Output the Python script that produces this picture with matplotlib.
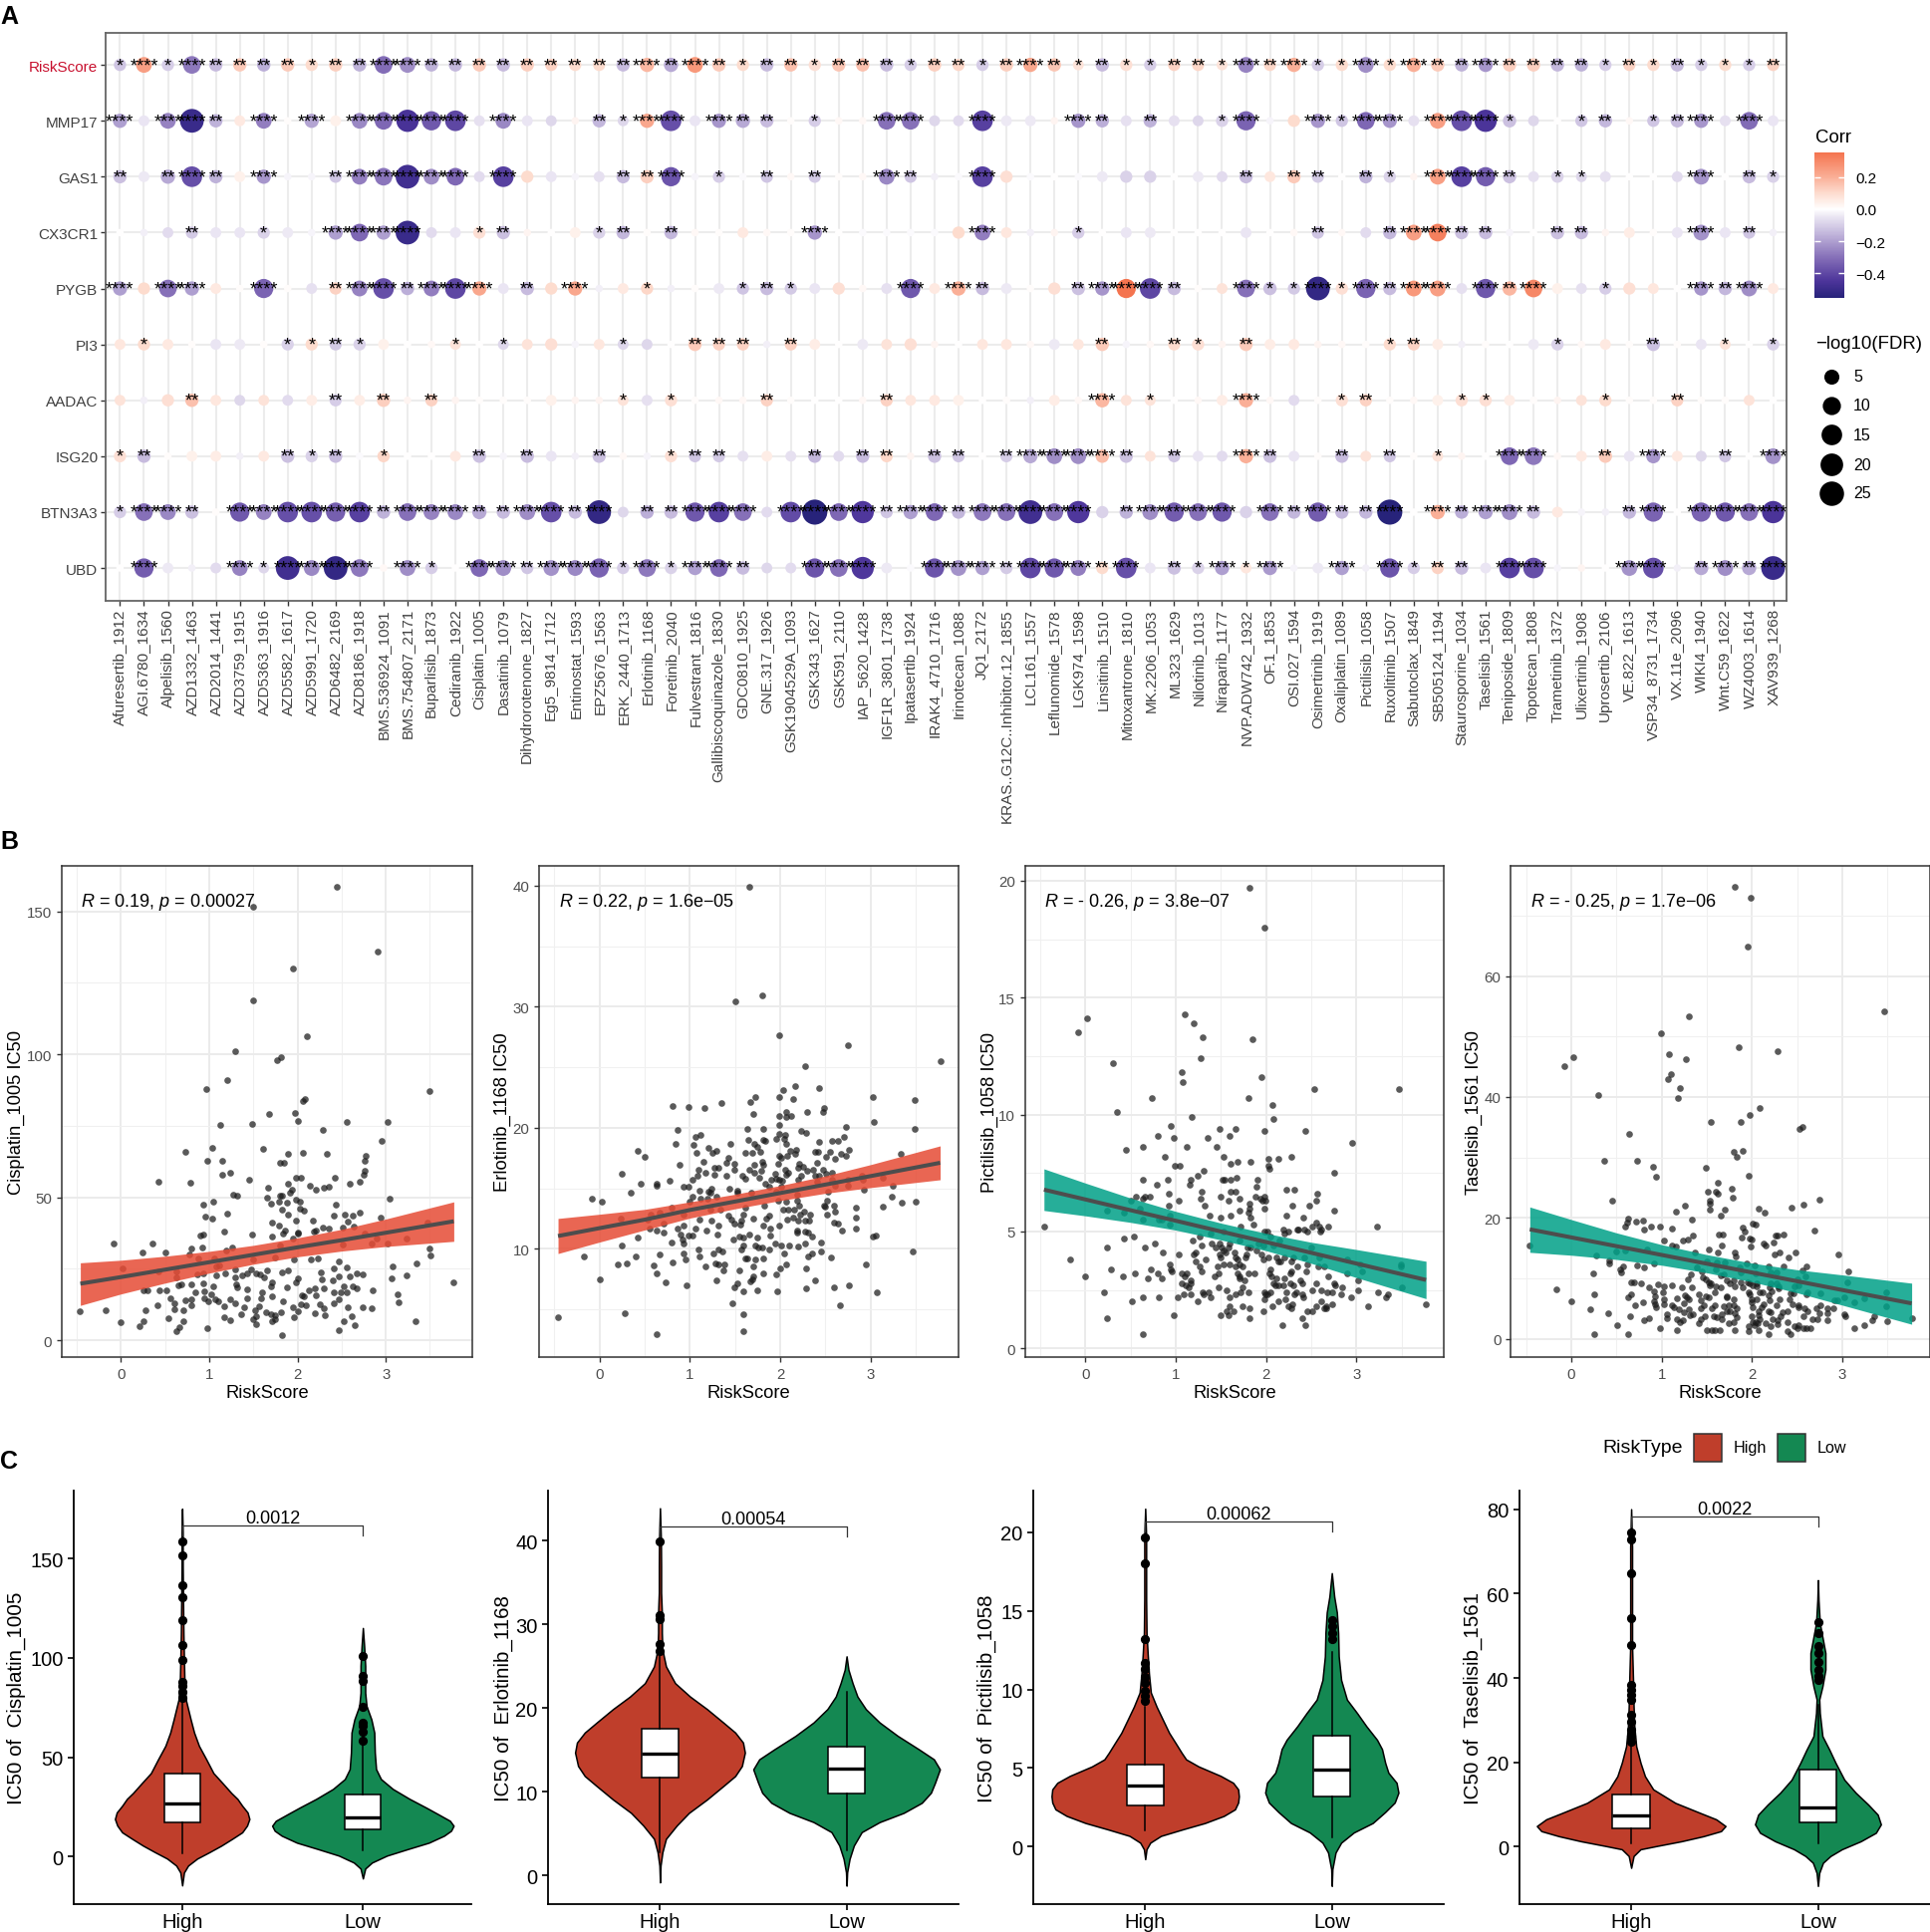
import numpy as np
import matplotlib
matplotlib.use("Agg")
import matplotlib.pyplot as plt
from matplotlib.cm import ScalarMappable
from matplotlib.colors import LinearSegmentedColormap, Normalize
from matplotlib.patches import Rectangle

plt.rcParams['font.family'] = ['Liberation Sans', 'DejaVu Sans']
plt.rcParams['mathtext.fontset'] = 'custom'
plt.rcParams['mathtext.rm'] = 'Liberation Sans'
plt.rcParams['mathtext.it'] = 'Liberation Sans:italic'

W, H = 1937, 1940

genes = ["RiskScore", "MMP17", "GAS1", "CX3CR1", "PYGB", "PI3", "AADAC", "ISG20", "BTN3A3", "UBD"]
drugs = ["Afuresertib_1912", "AGI.6780_1634", "Alpelisib_1560", "AZD1332_1463", "AZD2014_1441",
         "AZD3759_1915", "AZD5363_1916", "AZD5582_1617", "AZD5991_1720", "AZD6482_2169",
         "AZD8186_1918", "BMS.536924_1091", "BMS.754807_2171", "Buparlisib_1873", "Cediranib_1922",
         "Cisplatin_1005", "Dasatinib_1079", "Dihydrorotenone_1827", "Eg5_9814_1712", "Entinostat_1593",
         "EPZ5676_1563", "ERK_2440_1713", "Erlotinib_1168", "Foretinib_2040", "Fulvestrant_1816",
         "Gallibiscoquinazole_1830", "GDC0810_1925", "GNE.317_1926", "GSK1904529A_1093", "GSK343_1627",
         "GSK591_2110", "IAP_5620_1428", "IGF1R_3801_1738", "Ipatasertib_1924", "IRAK4_4710_1716",
         "Irinotecan_1088", "JQ1_2172", "KRAS..G12C..Inhibitor.12_1855", "LCL161_1557", "Leflunomide_1578",
         "LGK974_1598", "Linsitinib_1510", "Mitoxantrone_1810", "MK.2206_1053", "ML323_1629",
         "Nilotinib_1013", "Niraparib_1177", "NVP.ADW742_1932", "OF.1_1853", "OSI.027_1594",
         "Osimertinib_1919", "Oxaliplatin_1089", "Pictilisib_1058", "Ruxolitinib_1507", "Sabutoclax_1849",
         "SB505124_1194", "Staurosporine_1034", "Taselisib_1561", "Teniposide_1809", "Topotecan_1808",
         "Trametinib_1372", "Ulixertinib_1908", "Uprosertib_2106", "VE.822_1613", "VSP34_8731_1734",
         "VX.11e_2096", "WIKI4_1940", "Wnt.C59_1622", "WZ4003_1614", "XAV939_1268"]

# correlation x 100, one row per gene
corr_riskscore = [-12,24,-10,-28,-14,14,-17,14,10,13, -16,-31,-24,-16,-15,14,-14,13,12,10,
                  10,-14,18,-18,26,14,10,-14,16,9, 15,16,-14,-10,13,11,-10,13,22,15,
                  8,-14,9,-10,12,11,8,-26,11,20, -10,10,-24,10,20,14,-16,-22,13,13,
                  -15,-16,-10,12,10,-14,-10,10,-10,12]
corr_mmp17 = [-20,-5,-26,-50,-16,6,-27,1,-19,4, -25,-32,-46,-36,-40,-6,-25,-5,-8,3,
              -15,-8,22,-38,-5,-22,-18,-14,1,-10, 2,2,-30,-30,-8,-7,-42,-4,-4,3,
              -22,-17,-6,-16,-6,-8,-9,-33,-2,10, -22,-12,-32,-22,-6,24,-38,-45,-13,-8,
              0,-12,-15,2,-12,-14,-22,-6,-31,-5]
corr_gas1 = [-13,-4,-18,-38,-16,4,-22,-2,-2,-12, -27,-29,-48,-24,-32,-7,-42,10,-5,-2,
             -6,-14,13,-37,-2,-10,-1,-12,2,-11, 1,2,-25,-12,-3,-1,-42,9,-1,0,
             -1,-4,-9,-9,0,-4,-7,-14,7,14, -11,0,-16,-9,3,24,-42,-35,-13,-6,
             -9,-8,-6,0,0,-7,-23,0,-14,-9]
corr_cx3cr1 = [0,-3,-7,-11,-5,-5,-9,-4,-2,-20, -32,-20,-50,-7,-5,9,-13,3,0,4,
               -9,-15,1,-15,2,1,6,2,1,-22, 0,-1,-1,-1,-1,10,-27,7,-3,3,
               -10,0,-5,-4,0,0,0,-5,0,2, -12,2,-7,-15,24,32,-13,-14,-2,0,
               -13,-14,3,5,1,-5,-23,-5,-12,-3]
corr_pygb = [-20,10,-30,-20,6,1,-33,1,-6,12, -26,-38,-17,-27,-40,22,-5,-14,10,22,
             -3,6,11,-3,1,-4,-12,-14,-11,-5, 9,2,-6,-36,6,20,-14,-4,1,9,
             -13,-22,35,-40,-14,1,8,-30,-13,-11, -52,9,-33,-14,26,24,-6,-36,18,30,
             4,-6,-10,9,7,0,-22,-15,-24,6]
corr_pi3 = [7,10,6,1,-5,-4,1,-9,10,-11, -9,4,0,2,8,0,-8,8,9,-2,
            7,-8,-8,0,14,12,12,-3,12,5, 0,-4,8,9,3,0,7,7,2,-4,
            7,14,-2,2,10,9,3,14,5,6, 3,2,1,10,12,5,-3,1,0,-4,
            -9,2,6,1,-13,1,-5,8,0,-9]
corr_aadac = [8,-3,9,16,7,-8,8,-7,5,-10, 5,13,3,12,3,1,1,1,4,3,
              3,8,-6,9,1,2,2,12,1,0, 0,2,12,7,6,4,0,1,-3,5,
              2,18,8,8,0,2,5,20,2,-7, 1,9,12,1,2,4,9,9,5,1,
              3,8,10,1,1,12,1,1,8,0]
corr_isg20 = [9,-14,1,4,5,-3,6,-13,-9,-14, -1,11,0,0,6,-13,-2,-14,-5,-3,
              -13,2,-2,9,-12,-11,-6,5,-6,-15, -7,-14,11,3,-13,-12,0,-10,-18,-24,
              -24,17,-13,8,-12,-5,-7,20,-13,-5, 1,-14,8,-12,1,8,3,0,-32,-28,
              2,6,14,-5,-22,6,-8,-12,0,-23]
corr_btn3a3 = [-10,-30,-25,-13,1,-36,-26,-38,-38,-34, -42,-16,-30,-26,-25,-18,-14,-24,-38,-14,
               -52,-8,-17,-14,-36,-42,-30,-7,-39,-55, -32,-44,-12,-20,-32,-15,-28,-30,-48,-30,
               -44,-9,-16,-24,-35,-30,-36,-9,-30,-15, -35,-15,-15,-55,0,20,-17,-20,-24,-14,
               6,-2,-3,-15,-33,0,-33,-36,-30,-45]
corr_ubd = [0,-35,-4,-3,-7,-26,-8,-48,-25,-52, -28,2,-24,-10,0,-32,-24,-12,-23,-25,
            -33,-10,-28,-9,-20,-32,-14,-8,-7,-37, -30,-44,-4,-1,-37,-23,-20,-11,-40,-36,
            -27,10,-38,-5,-13,-9,-20,7,-21,-2, -4,-20,-3,-37,-10,12,-14,-5,-42,-38,
            -2,3,0,-23,-38,-3,-18,-24,-18,-50]
corr_rows = [corr_riskscore, corr_mmp17, corr_gas1, corr_cx3cr1, corr_pygb,
             corr_pi3, corr_aadac, corr_isg20, corr_btn3a3, corr_ubd]

# -log10(FDR)
fdr_riskscore = [2,6,2,9,3,3,3,3,2,3, 3,9,6,3,3,3,3,3,2,2, 2,3,4,4,6,3,2,3,3,2, 3,3,3,2,3,2,2,3,4,3,
                 1,3,2,2,2,2,1,6,2,4, 2,2,6,2,4,3,3,4,3,3, 3,3,2,2,2,3,2,2,2,2]
fdr_mmp17 = [4,1,6,23,3,1,6,0,4,1, 6,9,19,12,15,1,6,1,1,0, 3,1,4,15,1,4,4,3,0,2, 0,0,9,9,1,1,15,1,1,0,
             4,3,1,3,1,1,2,12,0,2, 4,2,9,4,1,6,15,19,3,1, 0,2,3,0,2,3,4,1,9,1]
fdr_gas1 = [3,1,4,15,3,1,4,0,0,2, 6,9,23,6,9,1,15,2,1,0, 1,3,3,12,0,2,0,2,0,2, 0,0,6,2,0,0,15,2,0,0,
            0,1,2,2,0,1,1,3,1,3, 2,0,3,2,0,6,15,12,3,1, 2,1,1,0,0,1,6,0,3,2]
fdr_cx3cr1 = [0,0,1,2,1,1,2,1,0,4, 9,4,23,1,1,2,3,0,0,1, 2,3,0,3,0,0,1,0,0,4, 0,0,0,0,0,2,6,1,0,0,
              2,0,1,1,0,0,0,1,0,0, 2,0,1,3,6,9,3,3,0,0, 3,3,0,1,0,1,6,1,2,0]
fdr_pygb = [4,2,9,4,1,0,12,0,1,2, 6,15,3,6,15,4,1,3,2,4, 0,1,2,0,0,1,2,3,2,1, 2,0,1,12,1,4,3,1,0,2,
            3,4,12,15,3,0,1,9,3,2, 23,2,12,3,6,6,1,12,4,9, 1,1,2,2,1,0,4,3,6,1]
fdr_pi3 = [1,2,1,0,1,1,0,2,2,2, 2,1,0,0,1,0,1,1,2,0, 1,1,1,0,3,2,2,0,2,1, 0,1,1,2,0,0,1,1,0,1,
           1,3,0,0,2,2,0,3,1,1, 0,0,0,2,2,1,0,0,0,1, 2,0,1,0,3,0,1,1,0,2]
fdr_aadac = [1,0,2,3,1,1,1,1,1,2, 1,3,0,2,0,0,0,0,1,0, 0,1,1,2,0,0,0,2,0,0, 0,0,2,1,1,1,0,0,0,1,
             0,4,1,1,0,0,1,4,0,1, 0,2,2,0,0,1,2,2,1,0, 0,1,2,0,0,2,0,0,1,0]
fdr_isg20 = [2,3,0,1,1,0,1,3,2,3, 0,2,0,0,1,3,0,3,1,0, 3,0,0,2,2,2,1,1,1,3, 1,3,2,0,3,2,0,2,4,6,
             6,3,3,1,2,1,1,4,3,1, 0,3,1,2,0,1,0,0,9,9, 0,1,3,1,4,1,1,2,0,6]
fdr_btn3a3 = [2,9,6,3,0,12,6,15,15,12, 15,3,9,6,6,4,3,6,15,3, 23,1,3,3,12,15,9,1,15,27, 9,19,2,4,9,3,9,9,23,9,
              19,2,3,6,12,9,12,2,9,3, 12,3,3,27,0,4,3,4,6,3, 1,0,0,3,12,0,12,12,9,19]
fdr_ubd = [0,12,1,0,1,6,1,23,6,23, 9,0,6,2,0,9,6,2,6,6, 12,2,9,2,4,9,3,1,1,12, 9,19,1,0,12,6,4,2,15,12,
           6,2,15,1,3,2,4,1,4,0, 1,4,0,12,2,2,3,1,15,15, 0,0,0,6,15,0,4,6,4,23]
fdr_rows = [fdr_riskscore, fdr_mmp17, fdr_gas1, fdr_cx3cr1, fdr_pygb,
            fdr_pi3, fdr_aadac, fdr_isg20, fdr_btn3a3, fdr_ubd]

# number of significance stars
stars_riskscore = [1,4,1,4,2,2,2,2,1,2, 2,4,4,2,2,2,2,2,2,2, 2,2,4,2,4,2,1,2,2,1, 2,2,2,1,2,2,1,2,4,2,
                   1,2,1,1,2,2,1,4,2,4, 1,1,4,1,4,2,2,4,2,2, 2,2,1,2,1,2,1,1,1,2]
stars_mmp17 = [4,0,4,4,2,0,4,0,4,0, 4,4,4,4,4,0,4,0,0,0, 2,1,4,4,0,4,2,2,0,1, 0,0,4,4,0,0,4,0,0,0,
               4,2,0,2,0,0,1,4,0,0, 4,1,4,4,0,4,4,4,1,0, 0,1,2,0,1,2,4,0,4,0]
stars_gas1 = [2,0,2,4,2,0,4,0,0,2, 4,4,4,4,4,0,4,0,0,0, 0,2,2,4,0,1,0,2,0,2, 0,0,4,2,0,0,4,0,0,0,
              0,0,0,0,0,0,0,2,0,2, 2,0,2,1,0,4,4,4,2,0, 1,1,0,0,0,0,4,0,2,1]
stars_cx3cr1 = [0,0,0,2,0,0,1,0,0,4, 4,4,4,0,0,1,2,0,0,0, 1,2,0,2,0,0,0,0,0,4, 0,0,0,0,0,0,4,0,0,0,
                1,0,0,0,0,0,0,0,0,0, 2,0,0,2,4,4,2,2,0,0, 2,2,0,0,0,0,4,0,2,0]
stars_pygb = [4,0,4,4,0,0,4,0,0,2, 4,4,2,4,4,4,0,2,0,4, 0,0,1,0,0,0,1,2,1,0, 0,0,0,4,0,4,2,0,0,0,
              2,4,4,4,2,0,0,4,1,1, 4,1,4,2,4,4,0,4,2,4, 0,0,1,0,0,0,4,2,4,0]
stars_pi3 = [0,1,0,0,0,0,0,1,1,2, 1,0,0,0,1,0,1,0,0,0, 0,1,0,0,2,2,2,0,2,0, 0,0,0,0,0,0,0,0,0,0,
             0,2,0,0,2,1,0,2,0,0, 0,0,0,1,2,0,0,0,0,0, 1,0,0,0,2,0,0,1,0,1]
stars_aadac = [0,0,0,2,0,0,0,0,0,2, 0,2,0,2,0,0,0,0,0,0, 0,1,0,1,0,0,0,2,0,0, 0,0,2,0,0,0,0,0,0,0,
               0,4,0,1,0,0,0,4,0,0, 0,1,2,0,0,0,1,1,0,0, 0,0,1,0,0,2,0,0,0,0]
stars_isg20 = [1,2,0,0,0,0,0,2,1,2, 0,1,0,0,0,2,0,2,0,0, 2,0,0,1,2,2,0,0,0,2, 0,2,2,0,2,2,0,2,4,4,
               4,4,2,0,2,0,0,4,2,0, 0,2,0,2,0,1,0,0,4,4, 0,0,2,0,4,0,0,2,0,4]
stars_btn3a3 = [1,4,4,2,0,4,4,4,4,4, 4,2,4,4,4,2,2,4,4,2, 4,0,2,2,4,4,4,0,4,4, 4,4,2,4,4,2,4,4,4,4,
                4,0,2,4,4,4,4,0,4,2, 4,2,2,4,0,4,2,4,4,2, 0,0,0,2,4,0,4,4,4,4]
stars_ubd = [0,4,0,0,0,4,1,4,4,4, 4,0,4,1,0,4,4,2,4,4, 4,1,4,1,4,4,2,0,0,4, 4,4,0,0,4,4,4,2,4,4,
             4,2,4,0,2,1,4,1,4,0, 0,4,0,4,1,2,2,0,4,4, 0,0,0,4,4,0,2,4,2,4]
star_rows = [stars_riskscore, stars_mmp17, stars_gas1, stars_cx3cr1, stars_pygb,
             stars_pi3, stars_aadac, stars_isg20, stars_btn3a3, stars_ubd]

# panel B, (RiskScore, IC50)
cisplatin_pts = [(2.44,158.4),(1.5,151.6),(2.91,136),(1.95,130),(1.5,119),(2.11,106.3),(1.29,101),(1.81,98.9),(1.77,98),(1.2,91),
    (.97,88),(3.49,87.2),(2.08,84.2),(2.06,83.5),(1.68,79.2),(1.97,79.6),(2,76.8),(1.49,75.7),(1.12,75.4),(2.56,76.3),
    (3.02,76.3),(2.29,73.6),(2.95,69.6),(1.03,67.4),(1.61,67),(.73,65.8),(1.89,65.3),(2.06,65.4),(2.33,65.1),(2.77,64.4),
    (2.76,62.7),(.98,62.6),(1.15,62.7),(1.8,62.1),(1.85,62.2),(2.76,59.3),(2.75,57.8),(1.15,57.8),(1.24,58.6),(1.98,56.8),
    (2.04,56.9),(2.42,56.7),(1.45,56.1),(.42,55.6),(.79,55),(2.7,55.4),(2.59,54.8),(1.89,54.8),(2.14,54.1),(1.67,53.5),
    (2.36,53.7),(2.3,53.2),(2.21,52.7),(1.94,52.5),(1.92,51.5),(1.27,51),(1.32,50.7),(1.82,50.7),(1.8,50.4),(1.66,49.7),
    (1.98,49.3),(3.04,49.6),(2.03,48.5),(1.04,48.4),(1.7,47.9),(1.79,48.4),(1.88,48.2),(.93,47.4),(2.43,47.3),(2.03,46.1),
    (2.07,45.2),(1.82,45.8),(2.7,44.7),(2.54,43.9),(2.41,43.5),(2.62,43.5),(1.2,44.2),(1.89,44),(.95,43.1),(1.03,42.7),
    (2.94,42.8),(2.17,42),(1.98,41.7),(1.71,41.3),(2.57,41.4),(3.47,41),(2.51,39.5),(2.29,39.5),(2.35,39.2),(2.64,39.8),
    (1.79,40.2),(2,37.8),(2,37.3),(2.19,37.9),(2.21,38.4),(1.86,38.3),(1.83,37.3),(1.17,37.9),(1.49,37.1),(.93,37.1),
    (.9,36.6),(1.71,36.2),(1.95,35.5),(2.76,37.3),(2.9,35.7),(3.23,35.7),(.36,34),(-.08,33.7),(.8,32),(.92,32.3),
    (1.26,32.4),(2.84,34),(3.02,34),(2.51,33.5),(1.8,33),(3.49,32),(.5,30.7),(.24,30.8),(1.19,31.4),(3.51,29.7),
    (.77,29.9),(.88,28.5),(1.06,28.5),(1.5,28.1),(1.74,29),(1.96,28.4),(2.15,28.4),(2.23,28.6),(2.47,27.4),(.02,25),
    (.42,24.1),(1.08,25.9),(1.11,26.1),(.63,24),(1.29,24.8),(1.47,24.8),(1.66,24.6),(1.89,24.5),(2.41,25.2),(2.56,25.5),
    (3.08,25.7),(3.35,26.9),(.63,22),(.86,23),(.93,23.3),(1.08,22.8),(1.18,23.3),(1.29,22),(1.37,22.6),(1.43,23.3),
    (1.53,23.3),(1.58,23),(1.62,22),(1.82,23.6),(2.27,23.7),(2.47,22.4),(2.59,22.4),(2.67,23.3),(2.74,23),(3.24,22.7),
    (3.77,20.2),(3.07,21.5),(2.4,20.8),(2.28,21.3),(2.01,21.5),(1.98,20.2),(.65,19.3),(.69,19.4),(.8,19.4),(.93,19.8),
    (1.04,18.8),(1.31,19.5),(1.32,18.5),(1.71,20.2),(1.7,18.9),(1.88,18.6),(2.2,18.3),(2.52,18.8),(2.62,18.8),(2.85,17.5),
    (.25,17.6),(.3,17.6),(.44,17.6),(.52,17.6),(.84,16.6),(.94,17.2),(1.02,16.2),(1.43,17.7),(1.6,16.9),(2.13,17.6),
    (2.3,18),(2.67,18),(2.41,16.6),(2.49,16.6),(2.56,16.6),(3.13,16.1),(.56,14.8),(.73,13.9),(.8,14.2),(.94,14.8),
    (.99,13.6),(1.07,14.4),(1.1,13.8),(1.24,14.2),(1.29,12.9),(1.43,14.8),(1.59,14.8),(1.71,15.5),(1.83,13.7),(2.05,15.7),
    (2.07,15.3),(2.21,15.7),(2.47,14.4),(3.14,13.4),(.41,12.4),(.6,12.9),(.61,11),(.71,10.4),(.8,12.2),(1.17,11.9),
    (1.4,11.7),(1.56,11.9),(2.04,12.7),(2.1,12.3),(2.25,12.5),(2.3,11.3),(2.41,12.8),(2.57,11.4),(2.74,11.7),(2.84,11.2),
    (-.47,10),(-.17,10.6),(.28,10.5),(1.52,10.4),(1.64,9.8),(1.81,9.9),(1.95,11.7),(2,10.1),(2.2,9.6),(1.36,9.1),
    (1.7,9.1),(1.96,8.2),(2.31,8.7),(2.61,8.5),(.54,7.6),(1.17,8.1),(1.53,8.4),(1.74,8.6),(1.24,7),(1.5,7.2),
    (1.71,6.8),(1.74,7.4),(.71,6.8),(.25,6.6),(2.52,6.7),(3.34,6.7),(0,6.2),(1.53,5.6),(.21,4.9),(2.65,5.3),
    (.66,4.6),(.98,4.4),(.63,3.3),(2.47,3.4),(1.82,1.8)]
erlotinib_pts = [(1.66,39.9),(1.5,30.4),(1.8,30.9),(1.99,27.6),(2.75,26.8),(3.77,25.5),(2.28,25.1),(2.17,23.4),(2.43,23.3),(2.03,23.1),
    (3.02,22.5),(1.72,22.5),(1.67,22.1),(1.99,22.5),(2.14,22.4),(3.49,22.3),(1.35,22),(.81,21.8),(.98,21.7),(1.16,21.6),
    (2.48,21.6),(2.47,21.3),(2.06,21.3),(2.3,21.3),(1.99,21),(2.07,20.9),(2.12,21),(1.7,21.1),(3.04,20.5),(1.99,20.2),
    (2.73,20.1),(3.49,19.9),(.86,19.8),(1.64,19.9),(1.81,19.9),(2.23,19.7),(2.29,19.6),(1.99,19.5),(2.05,19.4),(1.12,19.4),
    (1.06,19.2),(1.95,19.1),(2.04,19.1),(2.7,19.2),(2.57,18.9),(2.64,18.9),(1.65,19),(1.81,19),(1.83,18.9),(.84,18.7),
    (1.04,18.6),(1.45,18.7),(1.71,18.7),(2.07,18.7),(2.43,18.8),(1.74,18.4),(1.2,18.3),(2.76,18.2),(2.18,18.2),(.42,18.1),
    (1.29,18.1),(2.11,18.1),(2.39,18),(2.42,18),(1.78,18),(2.55,18),(2.67,17.8),(2.73,17.7),(1.07,17.9),(1.25,17.9),
    (1.61,17.9),(1.69,17.9),(2.17,17.8),(2.08,17.7),(1.99,17.7),(2.01,17.5),(3.33,17.8),(.5,17.6),(2.51,17.6),(2.61,17.4),
    (1.43,17.5),(1.15,17.2),(1.8,17.2),(1.4,17.1),(2.41,17.1),(.88,16.9),(1.49,17),(1.71,16.9),(1.98,17),(1.81,16.9),
    (2.21,17),(2.25,16.8),(2.2,16.7),(1.27,16.7),(1.31,16.7),(1.49,16.5),(1.66,16.5),(1.71,16.3),(1.1,16.5),(1.17,16.3),
    (2.05,16.5),(2.09,16.3),(2.3,16.4),(2.36,16.5),(2.47,16.5),(1.79,16.4),(.24,16.2),(2.51,16.2),(2.57,16.3),(1.94,16.2),
    (1.27,16.1),(2.07,16.1),(1.08,16),(1.4,16),(1.58,16),(1.61,15.8),(1.77,15.9),(2.23,16),(2.39,16),(2.43,16),
    (1.96,15.8),(2.9,16),(3.13,15.9),(1.03,15.7),(.78,15.6),(1.9,15.7),(1.99,15.7),(2.02,15.6),(2.2,15.7),(2.57,15.7),
    (2.75,15.7),(2.41,15.5),(2.91,15.7),(.45,15.4),(.63,15.4),(.63,15.2),(1.83,15.4),(3.24,15.2),(.93,15.1),(.98,15.1),
    (1.88,15.1),(2.01,15.1),(1.44,15),(2.61,15.2),(2.75,15.2),(1.24,15),(1.53,14.8),(1.11,14.8),(1.2,14.7),(1.23,14.6),
    (1.53,14.6),(2.93,14.9),(2.53,14.7),(.35,14.6),(1.68,14.6),(1.95,14.7),(2.19,14.5),(1.29,14.3),(3.23,14.3),(1.03,14.3),
    (1.12,14.1),(1.19,14.1),(-.08,14.1),(.02,13.9),(.99,13.9),(1.98,14),(2.06,13.9),(2.19,14),(2.52,14),(3.5,13.9),
    (3.35,13.8),(1.82,13.6),(2.21,13.6),(2.48,13.6),(2.5,13.5),(2.6,13.6),(3.13,13.5),(2.84,13.4),(.8,13.4),(1.61,13.4),
    (1.34,13.2),(2.03,13.2),(2.09,13.2),(2.15,13.2),(2.26,13.1),(2.61,13.1),(1.23,13.2),(.56,12.8),(.66,13),(.93,12.8),
    (1.43,12.7),(1.59,12.8),(1.88,12.7),(2.33,12.8),(2.52,12.8),(2.22,12.8),(1.84,12.5),(2.14,12.6),(2.84,12.6),(.23,12.5),
    (.53,12.4),(1.7,12.5),(1.11,12.4),(1.24,12.3),(1.46,12.4),(2.08,12.4),(2.2,12.3),(2.27,12.3),(2.32,12.3),(2.59,12.2),
    (2.64,12.1),(1.57,12.3),(1.49,12.1),(.71,12.1),(1.56,12),(.93,11.9),(1.32,11.9),(1.81,11.9),(1.99,11.9),(2.84,11.7),
    (.55,11.7),(.86,11.7),(1.06,11.7),(1.89,11.7),(2.68,11.5),(.63,11.5),(1.18,11.5),(2.19,11.5),(2.19,11.3),(2.28,11.4),
    (2.31,11.3),(2.35,11),(.71,11.3),(.9,11.2),(1.3,11.2),(1.66,11.2),(.98,11.1),(1.03,11.1),(1.89,11.1),(1.55,11),
    (1.59,10.9),(3.02,11),(3.06,11.1),(1.74,10.9),(.42,10.9),(1.48,10.8),(.92,10.8),(.8,10.5),(.93,10.4),(2.45,10.5),
    (1.94,10.4),(2.01,10.3),(1.59,10.3),(1.72,10.3),(1.76,10.1),(1.8,10.1),(2.1,10.3),(2.2,10.2),(2.27,10.4),(.24,10.3),
    (1.57,9.9),(1.88,9.9),(1.09,9.9),(1.31,9.9),(1.36,9.8),(2.45,9.8),(3.47,9.8),(2.04,9.6),(.93,9.6),(1.26,9.6),
    (2.35,9.6),(.66,9.5),(2.31,9.4),(.4,9.4),(1.11,9.4),(-.17,9.4),(.95,9.1),(1.61,9.2),(1.64,9.2),(2.56,9.3),
    (1.81,9.2),(1.72,9.1),(.81,8.9),(.3,8.8),(.2,8.7),(1.28,8.8),(1.31,8.7),(1.38,8.7),(2.06,8.7),(2,8.4),
    (.6,8.6),(1.17,8.5),(1.7,8.5),(2.29,8.4),(2.95,8.7),(1.37,8.2),(1.55,8.2),(.63,8),(1.81,8),(1.95,7.9),
    (0,7.5),(1.7,7.7),(1.69,7.5),(1.67,7.3),(1.29,7.4),(2.38,7.4),(.73,7.2),(.96,7),(1.53,7.1),(1.49,6.8),
    (2.76,7),(2.59,6.8),(1.59,6.5),(1.75,6.6),(1.97,6.5),(2.29,6.7),(3.07,6.4),(1.47,5.5),(2.66,5.3),(.28,4.7),
    (1.59,4.6),(-.46,4.3),(1.59,3.2),(.63,2.9)]
pictilisib_pts = [(1.81,19.7),(1.98,18),(1.1,14.3),(.02,14.1),(1.2,13.9),(-.08,13.5),(1.3,13.3),(1.85,13.2),(1.27,12.4),(.3,12.2),
    (1.07,11.8),(1.08,11.4),(1.95,11.6),(2.53,11.1),(3.47,11.1),(.73,10.7),(1.8,10.7),(2.07,10.4),(.35,10.1),(1.18,9.9),
    (2.08,9.8),(.94,9.5),(1.49,9.4),(1.66,9.4),(1.98,9.3),(2.43,9.3),(1.59,9.1),(.8,9.1),(.98,9),(1.35,9),
    (2.95,8.8),(1.45,8.6),(.63,8.6),(1.12,8.6),(.45,8.5),(.88,8.2),(1.53,8.2),(2.14,8.1),(2.28,8.2),(1.83,8),
    (2.02,8.1),(1.68,8),(1.61,7.9),(2.03,7.8),(2.04,7.7),(.99,7.8),(1.04,7.8),(1.31,7.6),(1.24,7.4),(2.75,7.5),
    (.63,7.2),(1.16,7.2),(1.15,7),(1.52,7.2),(1.54,7.2),(1.61,7.2),(1.67,7.3),(.91,7.2),(1.9,7.2),(.79,7),
    (1.89,6.9),(2.22,6.8),(2.31,6.8),(1.29,6.7),(1.61,6.7),(1.66,6.7),(2.57,6.6),(.56,6.5),(.66,6.5),(.71,6.5),
    (.92,6.6),(1.5,6.5),(1.98,6.5),(1.88,6.5),(.63,6.4),(1.28,6.4),(1.58,6.3),(1.7,6.4),(1.94,6.4),(1.96,6.3),
    (1.99,6.3),(1.03,6.3),(.5,6.3),(2.55,6.3),(1.81,6.2),(2.29,6.1),(2.48,6.1),(1.32,6.1),(.92,6.1),(.6,6),
    (1.98,6),(1.81,6),(2.75,5.9),(.24,5.9),(1.71,5.9),(1.8,5.8),(1.37,5.7),(1.61,5.7),(.42,5.8),(.93,5.7),
    (2.22,5.7),(1.5,5.6),(2.41,5.6),(1.83,5.6),(.63,5.5),(.81,5.5),(.85,5.5),(2.56,5.4),(.93,5.3),(2.59,5.2),
    (1.72,5.2),(1.86,5.3),(2.69,5.2),(2.51,5.2),(-.46,5.2),(3.23,5.2),(2.61,5.1),(2.6,5),(2.34,5.1),(2.36,5.1),
    (2.42,5.1),(2.45,5),(1.98,5),(2.01,5),(2.19,5.1),(2.25,5),(1.53,5),(1.39,4.9),(2.05,4.8),(1.26,4.8),
    (2.2,4.9),(.54,4.8),(.42,4.7),(1.7,4.6),(1.19,4.6),(2.15,4.6),(1.49,4.5),(.77,4.5),(1.4,4.5),(1.44,4.3),
    (1.59,4.5),(1.92,4.5),(1.29,4.4),(.24,4.3),(.66,4.3),(1.51,4.3),(1.53,4.2),(1.58,4.3),(1.79,4.3),(1.83,4.3),
    (1.89,4.2),(1.97,4.4),(2.08,4.4),(2.5,4.3),(.86,4.1),(1.22,4.1),(1.55,4.1),(1.65,4.1),(1.95,4),(1.2,4),
    (1.03,4),(1.48,4),(1.78,4),(1.77,3.9),(1.66,3.9),(2.11,3.9),(2.03,3.9),(2.2,3.9),(2.3,3.9),(2.42,3.9),
    (2.59,3.9),(2.9,3.8),(1.33,3.8),(1.5,3.9),(-.17,3.8),(1.68,3.8),(1.97,3.8),(2.13,3.7),(2.16,3.7),(1.22,3.7),
    (3.04,3.6),(.93,3.6),(1.53,3.6),(1.59,3.6),(1.71,3.6),(2.28,3.7),(3.49,3.6),(3.49,3.5),(2.64,3.5),(2.58,3.5),
    (2.46,3.6),(1.26,3.5),(1.46,3.5),(.28,3.4),(.94,3.4),(1.66,3.5),(1.74,3.5),(2.05,3.4),(2.34,3.5),(.72,3.4),
    (.95,3.3),(1.29,3.3),(3.06,3.3),(2.28,3.3),(2.44,3.3),(.55,3.2),(1.47,3.2),(1.8,3.2),(1.87,3.2),(1.68,3.2),
    (0,3.1),(.41,3.1),(.8,3.2),(1.06,3.2),(1.12,3.2),(1.1,3.1),(1.43,3.1),(1.71,3.1),(2.04,3.2),(2.06,3.1),
    (2.27,3.2),(2.69,3.1),(2.9,3.2),(.69,3),(.85,3),(1.7,3),(2.11,3),(2.2,3),(2.38,2.9),(3.02,2.9),
    (1.17,2.9),(1.16,2.8),(1.76,2.9),(2.4,2.8),(2.55,2.8),(2.75,2.8),(2.76,2.7),(2.08,2.8),(2.1,2.7),(1.06,2.8),
    (2.27,2.8),(2.13,2.7),(2.19,2.7),(1.11,2.7),(1.14,2.6),(2.3,2.7),(1.47,2.6),(1.74,2.6),(2.51,2.5),(2.61,2.5),
    (2.84,2.6),(3.02,2.5),(3.5,2.6),(.21,2.4),(1.56,2.5),(2.22,2.4),(2.33,2.4),(1.09,2.3),(1.17,2.3),(1.3,2.4),
    (1.31,2.3),(1.36,2.4),(1.66,2.3),(1.72,2.4),(1.8,2.4),(1.98,2.4),(1.99,2.3),(2.01,2.3),(2.05,2.4),(2.31,2.3),
    (2.4,2.3),(2.41,2.2),(2.68,2.4),(2.73,2.4),(2.83,2.3),(3.24,2.4),(3.35,2.3),(3.33,2.2),(.64,2.2),(.81,2.2),
    (1.02,2.2),(1.39,2.2),(1.59,2.2),(2.94,2.2),(2.21,2.1),(2.14,2),(1.98,2.1),(.51,2),(1.24,2),(2.61,2),
    (2.73,1.9),(3.77,1.9),(2.29,1.9),(2.25,1.8),(2.55,1.8),(2.66,1.8),(1.59,1.8),(1.74,1.8),(2.07,1.8),(3.13,1.8),
    (2.28,1.7),(2.64,1.7),(2.67,1.7),(2.46,1.6),(2.51,1.6),(1.56,1.6),(1.64,1.6),(1.81,1.7),(1.97,1.6),(.98,1.4),
    (1.5,1.4),(1.58,1.4),(2.4,1.3),(1.81,1.3),(.24,1.3),(2.18,1),(2.43,1),(.63,.6)]
taselisib_pts = [(1.81,74.7),(1.99,73),(1.95,64.9),(3.47,54.2),(1.3,53.3),(.99,50.5),(1.85,48.3),(2.29,47.6),(1.08,47.1),(.02,46.6),
    (1.27,46.2),(-.08,45.1),(1.1,43.8),(1.07,43),(1.2,41.5),(.3,40.4),(1.18,39.9),(2.09,38.2),(1.98,37.1),(1.55,35.9),
    (1.88,35.9),(2.56,35),(2.53,34.7),(.64,33.9),(1.8,30.9),(1.9,31.1),(1.83,30.1),(.36,29.4),(.73,29.5),(.91,28.4),
    (1.49,28.3),(.94,26.8),(1.96,27),(1.62,25.8),(1.78,24.9),(1.51,24.3),(1.6,24.4),(1.62,24),(1.79,23.3),(.45,22.8),
    (1.53,22.8),(1.53,22.3),(2.75,23),(1.26,22.1),(2.57,22.2),(2.44,21.7),(2.08,21.5),(1.53,21.3),(1.7,21.3),(1.16,21),
    (2.14,20.9),(1.66,20.4),(.63,19.8),(.72,19.4),(.8,19.6),(1.33,19.7),(.62,19.2),(2.01,19),(2.04,18.9),(.6,18.5),
    (.88,18.6),(.98,18.6),(1.12,18.3),(1.9,18.4),(.81,18),(2.69,17.9),(1.92,17.8),(1.63,17.3),(1.68,17.3),(2.26,17.1),
    (2.29,17),(2.35,17.3),(1.35,17),(1.89,16.7),(1.98,16.6),(2,16.4),(1.24,16.3),(1.29,16.4),(1.03,16.3),(2.24,15.9),
    (2.13,15.7),(2.15,15.4),(1.67,15.5),(1.99,15.3),(1.12,15.5),(1.16,15.3),(-.46,15.4),(1.52,14.7),(.84,14.8),(.5,14.4),
    (.6,14.6),(1.81,14.3),(1.37,14.2),(1.62,14.2),(2.48,14.2),(2.31,14.3),(2.96,14),(2.25,13.9),(.28,13.8),(1.82,13.6),
    (2.41,13.4),(.42,12.9),(1.5,12.8),(1.61,12.7),(1.7,12.6),(1.94,12.4),(.42,12.4),(.92,12.4),(.73,12.1),(2.03,12.1),
    (2.19,11.9),(2.35,11.9),(2.6,12),(.81,11.8),(.57,11.9),(1.39,11.8),(1.45,11.2),(1.6,11.5),(1.86,11.8),(2.56,11.3),
    (3.07,11.1),(.54,11.4),(.55,11),(.24,10.8),(1.69,10.6),(1.88,11),(2.04,10.8),(2.21,11),(2.27,10.9),(1.32,10.6),
    (1.66,10.5),(2.59,10.4),(1.46,10.2),(1.29,9.9),(1.49,9.9),(1.72,9.7),(1.8,9.7),(1.95,9.4),(2.5,9.9),(.66,9.4),
    (.7,9.3),(1.52,9.4),(1.55,9.2),(1.75,9.2),(2.21,9.2),(2.27,9.2),(3.06,9.4),(.77,9.2),(.96,9),(1.88,9.4),
    (1.98,9.1),(2.01,8.8),(2.05,9.2),(1.53,8.9),(1.03,8.7),(1.12,8.8),(1.81,8.6),(1.6,8.7),(1.65,8.5),(2.05,8.6),
    (2.47,8.7),(2.52,8.8),(.86,8.5),(1.22,8.5),(1.33,8.5),(1.9,8.5),(2.2,8.5),(2.3,8.7),(2.3,8.3),(-.17,8.2),
    (.92,7.8),(1.02,7.7),(1.59,7.6),(1.96,7.7),(1.98,7.4),(2.09,7.7),(2.12,7.7),(2.22,7.8),(3.49,7.7),(2.62,7.7),
    (2.43,7.5),(2.46,7.5),(.25,7.4),(.66,7.4),(1.26,7.2),(1.41,7.4),(2.6,7.4),(2.76,7.5),(.63,6.9),(.93,7.1),
    (1.52,6.9),(1.72,6.9),(1.72,7),(1.28,6.9),(1.3,6.5),(1.17,6.7),(1.03,6.6),(1.49,7),(2.19,7.2),(2.2,6.4),
    (1.8,6.5),(2,6.6),(2.05,6.6),(2.42,6.5),(2.31,6.5),(3.02,6.8),(3.24,6.7),(0,6.2),(.8,6.1),(.92,6.2),
    (.93,5.7),(1.43,6.3),(1.25,5.9),(2.91,6.3),(2.95,6.3),(3.14,6),(2,6),(1.03,5.7),(1.12,5.6),(.71,5.6),
    (1.59,5.5),(1.47,5.5),(1.69,5.3),(1.74,5.5),(1.8,5.5),(2.13,5.7),(2.27,5.5),(2.45,5.7),(2.52,5.5),(2.76,5.5),
    (1.14,5.2),(1.19,4.9),(1.3,4.9),(1.44,5.1),(1.56,5.1),(1.83,5),(2.01,5.2),(2.11,5.2),(2.58,5),(3.49,5.3),
    (2.84,5.1),(2.9,5.1),(.21,4.9),(.94,5.2),(2.52,5.2),(2.62,4.6),(2.71,5),(1.25,4.4),(1.72,4.6),(1.75,4.5),
    (.41,4.2),(2.84,4.3),(2.75,4.3),(2.08,4.5),(2.18,4.5),(2.21,4.4),(2.39,4.6),(2.34,4.4),(3.02,4.1),(3.04,3.7),
    (1.06,4),(1.31,3.9),(1.35,4),(1.81,4.2),(1.67,4.1),(.65,3.7),(1.58,3.8),(1.48,3.8),(2,3.7),(2.07,3.9),
    (2.32,3.8),(2.57,3.7),(3.35,3.8),(3.77,3.4),(1.61,3.5),(1.67,3.3),(1.83,3.6),(1.06,3.4),(1.17,3.3),(.86,3.4),
    (.81,3.1),(1.24,3.1),(1.44,3.2),(2.09,3.3),(2.23,3.2),(2.29,3.1),(2.67,3.2),(2.73,3.2),(2.84,3),(3.33,3.1),
    (3.5,2.9),(1.2,2.8),(1.8,2.7),(1.41,2.6),(1.74,2.5),(2.39,2.7),(2.01,2.7),(2.04,2.8),(2.06,2.5),(2.15,2.6),
    (2.29,2.4),(.51,2.3),(3.25,2.2),(2.03,2.3),(1.97,2),(2.21,2.1),(2.47,2.1),(2.52,2.3),(2.51,1.7),(2.57,1.8),
    (2.61,1.8),(2.65,1.8),(.98,1.7),(1.17,1.5),(1.5,1.4),(1.56,1.5),(1.59,1.5),(1.64,1.5),(1.81,1.4),(1.97,1.3),
    (2.07,1.5),(3.14,1.7),(.25,.8),(.63,.7),(2.18,.8),(2.4,1.2),(2.43,.8)]

# regression line and confidence band of panel B
fit_x = [-.46, 0, .5, 1, 1.5, 2, 2.5, 3, 3.77]
cisplatin_fit = [19.8,22.1,24.7,27.3,29.9,32.5,35.0,37.6,41.6]
cisplatin_low = [12.2,16.2,20.0,23.5,26.6,29.2,31.2,32.8,34.6]
cisplatin_up = [27.1,28.0,29.4,31.1,33.2,35.8,38.8,42.4,48.4]
erlotinib_fit = [11.05,11.7,12.4,13.2,13.9,14.6,15.3,16.0,17.1]
erlotinib_low = [9.6,10.55,11.55,12.53,13.3,13.98,14.58,15.05,15.7]
erlotinib_up = [12.5,12.85,13.25,13.87,14.5,15.22,16.02,16.95,18.5]
pictilisib_fit = [6.79,6.37,5.91,5.46,5.0,4.55,4.09,3.63,2.93]
pictilisib_low = [5.9,5.67,5.39,5.06,4.64,4.18,3.64,3.03,2.13]
pictilisib_up = [7.68,7.07,6.43,5.86,5.36,4.92,4.54,4.23,3.73]
taselisib_fit = [18.1,16.77,15.32,13.87,12.42,10.97,9.52,8.07,5.85]
taselisib_low = [14.3,13.82,13.12,12.17,10.92,9.42,7.62,5.57,2.4]
taselisib_up = [21.8,19.72,17.52,15.57,13.92,12.52,11.42,10.57,9.2]

# panel C, violin outlines: IC50 value, half width
cis_high_y = [-14.5,-8,-4.5,-1,2.2,5.5,8.9,12.2,15.6,18.9,22.2,25.6,29,32,37,42,49,55.7,62.4,69,79,87,99,112,129,146,163,175]
cis_high_w = [0,.01,.033,.083,.15,.216,.276,.332,.359,.372,.362,.332,.306,.272,.223,.173,.133,.093,.066,.047,.02,.013,.01,.007,.005,.003,.003,0]
cis_low_y = [-11,-6,-3,.5,3.8,7,10.5,13,15.5,18,21.4,24.7,29,34,39,44,52.3,62.4,69,75.8,82.4,96,106,115]
cis_low_w = [0,.013,.05,.133,.249,.365,.449,.488,.502,.482,.415,.349,.259,.166,.1,.073,.066,.063,.047,.02,.013,.013,.007,0]
erl_high_y = [-.8,1.2,2.8,4.4,6,7.5,9.1,10.7,11.9,13.1,14.7,15.9,17.1,18.3,19.9,21.4,23,25,27,29,31.4,33.8,37,40,43.9]
erl_high_w = [0,.003,.013,.032,.09,.155,.252,.339,.403,.439,.455,.445,.403,.339,.252,.161,.081,.032,.013,.01,.01,.006,.006,.005,0]
erl_low_y = [-1.2,.4,2,3.6,5.2,6.4,7.5,8.7,9.9,11.1,12.7,13.9,15.1,16.7,18.3,19.9,21.4,23,24.6,26.2]
erl_low_w = [0,.003,.016,.039,.081,.177,.306,.403,.452,.474,.5,.468,.387,.274,.177,.103,.058,.032,.01,0]
pic_high_y = [-.8,-.17,.25,.68,1.1,1.5,1.95,2.37,2.8,3.2,3.64,4.06,4.5,5.1,5.55,5.97,6.6,7.24,8.08,8.9,9.8,11,12.3,13.6,15.7,18,19.7,21.5]
pic_high_w = [0,.007,.027,.084,.202,.32,.421,.481,.498,.502,.498,.471,.404,.286,.219,.195,.162,.128,.094,.061,.03,.02,.013,.007,.005,.005,.005,0]
pic_low_y = [-2.5,-1.44,-.38,.25,.9,1.5,2.2,2.8,3.43,4.06,4.7,5.33,6.2,6.8,7.66,8.5,9.35,10.6,12.1,13.6,14.9,15.9,17.4]
pic_low_w = [0,.003,.02,.05,.118,.219,.286,.337,.357,.347,.303,.286,.269,.242,.185,.135,.081,.05,.037,.034,.027,.013,0]
tas_high_y = [-5,-2.2,-.6,.16,1.3,2.5,3.7,4.9,6.5,8,10.4,13.6,16.7,19.9,23.8,28.5,33.3,39.6,47.5,55.4,63.2,71,80]
tas_high_w = [0,.013,.05,.135,.269,.387,.481,.505,.455,.37,.236,.118,.074,.05,.027,.017,.013,.01,.005,.005,.005,.005,0]
tas_low_y = [-9.3,-6.2,-3.8,-2.2,-.6,1.3,3.3,5.3,7.6,10,12.8,15.9,19.9,23,26.2,31.7,34.9,38,42,45.9,49,53,58.5,63.2]
tas_low_w = [0,.007,.027,.067,.128,.229,.31,.337,.32,.269,.202,.141,.094,.061,.024,.01,.007,.024,.04,.04,.027,.01,.003,0]

# boxes: whisker low, q1, median, q3, whisker high, outliers
cis_high_box = (1.8, 17.2, 26.6, 41.8, 78, [158.5,151.5,136.5,130.6,119,106.5,99,87.8,85.8,83,80])
cis_low_box = (3.3, 13.9, 19.6, 31.4, 57, [101,90.8,88.3,75.4,67.4,65.7,62.9,58.5])
erl_high_box = (2.8, 11.7, 14.6, 17.6, 26.4, [39.9,31.1,30.6,27.7,26.8])
erl_low_box = (3, 9.85, 12.8, 15.4, 22, [])
pic_high_box = (1, 2.62, 3.9, 5.23, 8.9, [19.7,18,13.2,11.7,11.3,10.8,10.4,9.9,9.6,9.25])
pic_low_box = (.57, 3.17, 4.87, 7.03, 12.4, [14.4,14,13.6,13.2])
tas_high_box = (.8, 4.26, 7.5, 12.4, 25, [74.5,72.9,64.8,54.2,47.9,38.4,37.2,36,34.9,31.3,29.7,27.8,26.2,25])
tas_low_box = (.8, 5.7, 9.4, 18.2, 33.7, [53.2,50.6,47.5,45.9,43.9,42,40.4,39.6])

RED = '#BF3E2B'
GREEN = '#148852'

fig = plt.figure(figsize=(W / 100, H / 100), dpi=100, facecolor='white')


def px_axes(left, top, right, bottom):
    return fig.add_axes([left / W, 1 - bottom / H, (right - left) / W, (bottom - top) / H])


overlay = fig.add_axes([0, 0, 1, 1])
overlay.set_xlim(0, W)
overlay.set_ylim(H, 0)
overlay.axis('off')

for letter, ypos in [("A", 17), ("B", 845), ("C", 1467)]:
    overlay.text(0, ypos, letter, fontsize=18, fontweight='bold', va='center', ha='left', color='black')

# panel A
corr_cmap = LinearSegmentedColormap.from_list('corr', [
    ((v + .552) / .905, c) for v, c in [(-.552, '#27237a'), (-.45, '#4c349a'), (-.3, '#8670b8'),
                                        (-.15, '#c3b7dc'), (-.05, '#e9e4f2'), (0, '#ffffff'),
                                        (.1, '#fddccf'), (.2, '#faaf97'), (.353, '#f4744f')]])
corr_norm = Normalize(-.552, .353)


def dot_area(v):
    return (.72 * (7.5 + 3.4 * np.sqrt(v))) ** 2


ax = px_axes(106, 33.6, 1793, 603.6)
ax.set_xlim(-.6, 69.56)
ax.set_ylim(9.58, -.58)
ax.set_axisbelow(True)
ax.grid(True, color='#ececec', lw=1.5)
for row, gene in enumerate(genes):
    xs = np.arange(len(drugs))
    vals = np.array(corr_rows[row]) / 100
    ax.scatter(xs, [row] * len(xs), c=vals, s=dot_area(np.array(fdr_rows[row])), cmap=corr_cmap,
               norm=corr_norm, linewidths=0, zorder=2)
    for i, n in enumerate(star_rows[row]):
        if n:
            ax.annotate('*' * n, (i, row), xytext=(0, -3.5), textcoords='offset points', ha='center',
                        va='baseline', fontsize=13, color='black', zorder=3, annotation_clip=True, clip_on=True)
ax.set_xticks(range(len(drugs)))
ax.set_xticklabels(drugs, rotation=90, ha='center', va='top', fontsize=11, color='#404040')
ax.set_yticks(range(len(genes)))
ax.set_yticklabels(genes, fontsize=11, color='#404040')
ax.get_yticklabels()[0].set_color('#c8102e')
ax.tick_params(length=3.5, width=1, color='#333333', pad=2)
for s in ax.spines.values():
    s.set_color('#666666')
    s.set_linewidth(1.3)

cax = px_axes(1821, 154, 1851, 300)
cbar = fig.colorbar(ScalarMappable(norm=corr_norm, cmap=corr_cmap), cax=cax, ticks=[.2, 0, -.2, -.4])
cbar.outline.set_visible(False)
cax.set_yticklabels(['0.2', '0.0', '\u22120.2', '\u22120.4'], fontsize=11)
cax.tick_params(length=0, pad=8)
for t in [.2, 0, -.2, -.4]:
    cax.hlines(t, 0, .2, color='white', lw=1, transform=cax.get_yaxis_transform())
    cax.hlines(t, .8, 1, color='white', lw=1, transform=cax.get_yaxis_transform())

overlay.text(1822, 138.5, "Corr", fontsize=13.4, va='center', ha='left')
overlay.text(1822, 346, "\u2212log10(FDR)", fontsize=13.4, va='center', ha='left')
for v, ypos in zip([5, 10, 15, 20, 25], [378.7, 408, 437, 467, 496]):
    overlay.scatter([1838], [ypos], s=dot_area(v), color='black', linewidths=0)
    overlay.text(1860, ypos, str(v), fontsize=11.5, va='center', ha='left')

# panel B
scatter_panels = [
    ((62, 869.6, 474, 1362.8), cisplatin_pts, cisplatin_fit, cisplatin_low, cisplatin_up, '#E64B35',
     "Cisplatin_1005 IC50", (-.67, 3.98), (-5.8, 166), [0, 50, 100, 150], [25, 75, 125],
     r"$\mathit{R}$ = 0.19, $\mathit{p}$ = 0.00027", 16),
    ((541, 869.6, 961.7, 1362.8), erlotinib_pts, erlotinib_fit, erlotinib_low, erlotinib_up, '#E64B35',
     "Erlotinib_1168 IC50", (-.67, 3.97), (1.06, 41.67), [10, 20, 30, 40], [5, 15, 25, 35],
     r"$\mathit{R}$ = 0.22, $\mathit{p}$ = 1.6e" + "\u221205", 504),
    ((1028.7, 869.6, 1449.3, 1362.8), pictilisib_pts, pictilisib_fit, pictilisib_low, pictilisib_up, '#00A087',
     "Pictilisib_1058 IC50", (-.67, 3.97), (-.36, 20.65), [0, 5, 10, 15, 20], [2.5, 7.5, 12.5, 17.5],
     r"$\mathit{R}$ = - 0.26, $\mathit{p}$ = 3.8e" + "\u221207", 993),
    ((1516.3, 869.6, 1936.7, 1362.8), taselisib_pts, taselisib_fit, taselisib_low, taselisib_up, '#00A087',
     "Taselisib_1561 IC50", (-.67, 3.97), (-3, 78.3), [0, 20, 40, 60], [10, 30, 50, 70],
     r"$\mathit{R}$ = - 0.25, $\mathit{p}$ = 1.7e" + "\u221206", 1479),
]
for rect, pts, fit, low, up, band, ylabel, xlim, ylim, yt, ymt, note, label_x in scatter_panels:
    ax = px_axes(*rect)
    xs, ys = zip(*pts)
    ax.scatter(xs, ys, s=23, color='#1a1a1a', alpha=.72, linewidths=0, zorder=2)
    ax.fill_between(fit_x, low, up, color=band, alpha=.85, linewidth=0, zorder=3)
    ax.plot(fit_x, fit, color='#4d4d4d', lw=2.9, zorder=4, solid_capstyle='butt')
    ax.set_xlim(xlim)
    ax.set_ylim(ylim)
    ax.set_xticks([0, 1, 2, 3])
    ax.set_xticks([-.5, .5, 1.5, 2.5, 3.5], minor=True)
    ax.set_yticks(yt)
    ax.set_yticks(ymt, minor=True)
    ax.set_axisbelow(True)
    ax.grid(True, which='major', color='#ebebeb', lw=1.4)
    ax.grid(True, which='minor', color='#f0f0f0', lw=.8)
    ax.tick_params(which='minor', length=0)
    ax.tick_params(which='major', length=3.5, width=1, color='#333333', labelsize=10.8, labelcolor='#4d4d4d', pad=3.5)
    ax.set_xlabel("RiskScore", fontsize=13.2, labelpad=2.5)
    overlay.text(label_x, (rect[1] + rect[3]) / 2, ylabel, rotation=90, fontsize=13.2, va='center', ha='center')
    ax.text(.047, .927, note, transform=ax.transAxes, fontsize=13, va='center', ha='left', zorder=5)
    for s in ax.spines.values():
        s.set_color('#333333')
        s.set_linewidth(1.1)

# panel C
violin_panels = [
    ((74, 1497, 473, 1912), "IC50 of  Cisplatin_1005", (-23.9, 184.1), [0, 50, 100, 150],
     (cis_high_y, cis_high_w, cis_high_box), (cis_low_y, cis_low_w, cis_low_box),
     "0.0012", 166.6, 161.4, 16),
    ((550, 1497, 962, 1912), "IC50 of  Erlotinib_1168", (-3.4, 46), [0, 10, 20, 30, 40],
     (erl_high_y, erl_high_w, erl_high_box), (erl_low_y, erl_low_w, erl_low_box),
     "0.00054", 41.7, 40.5, 505),
    ((1037, 1497, 1449, 1912), "IC50 of  Pictilisib_1058", (-3.66, 22.65), [0, 5, 10, 15, 20],
     (pic_high_y, pic_high_w, pic_high_box), (pic_low_y, pic_low_w, pic_low_box),
     "0.00062", 20.7, 20.08, 990),
    ((1524.6, 1497, 1937, 1912), "IC50 of  Taselisib_1561", (-13.6, 84.4), [0, 20, 40, 60, 80],
     (tas_high_y, tas_high_w, tas_high_box), (tas_low_y, tas_low_w, tas_low_box),
     "0.0022", 78.3, 76, 1478),
]
for rect, ylabel, ylim, yt, high, low, ptext, br_top, br_bot, label_x in violin_panels:
    ax = px_axes(*rect)
    for pos, (vy, vw, box), col in [(1, high, RED), (2, low, GREEN)]:
        vw = np.array(vw)
        ax.fill_betweenx(vy, pos - vw, pos + vw, facecolor=col, edgecolor='black', lw=1.1, zorder=2)
        stats = [dict(whislo=box[0], q1=box[1], med=box[2], q3=box[3], whishi=box[4], fliers=box[5])]
        ax.bxp(stats, positions=[pos], widths=.2, patch_artist=True, showcaps=False, zorder=3,
               boxprops=dict(facecolor='white', edgecolor='black', lw=1.1),
               whiskerprops=dict(color='black', lw=1.1),
               medianprops=dict(color='black', lw=2.4, solid_capstyle='butt'),
               flierprops=dict(marker='o', markerfacecolor='black', markeredgecolor='black', markersize=5.6))
    ax.plot([1, 1, 2, 2], [br_bot, br_top, br_top, br_bot], color='#333333', lw=.9, zorder=4)
    ax.text(1.5, br_top - (ylim[1] - ylim[0]) * .002, ptext, fontsize=13, ha='center', va='bottom')
    ax.set_xlim(.4, 2.6)
    ax.set_ylim(ylim)
    ax.set_xticks([1, 2])
    ax.set_xticklabels(["High", "Low"])
    ax.set_yticks(yt)
    ax.set_yticklabels([str(v) for v in yt])
    ax.tick_params(axis='y', length=4.5, width=1.2, labelsize=14.5, pad=3)
    ax.tick_params(axis='x', length=4.5, width=1.2, labelsize=14.5, pad=1.5)
    for side in ['top', 'right']:
        ax.spines[side].set_visible(False)
    for side in ['left', 'bottom']:
        ax.spines[side].set_linewidth(1.3)
    overlay.text(label_x, (rect[1] + rect[3]) / 2, ylabel, rotation=90, fontsize=14.8, va='center', ha='center')

overlay.text(1608, 1454, "RiskType", fontsize=14, va='center', ha='left')
overlay.add_patch(Rectangle((1700, 1439.5), 28, 28, facecolor=RED, edgecolor='#333333', lw=1.1))
overlay.text(1740, 1454, "High", fontsize=11.6, va='center', ha='left')
overlay.add_patch(Rectangle((1784, 1439.5), 28, 28, facecolor=GREEN, edgecolor='#333333', lw=1.1))
overlay.text(1824, 1454, "Low", fontsize=11.6, va='center', ha='left')

fig.savefig('out.png', dpi=100)
